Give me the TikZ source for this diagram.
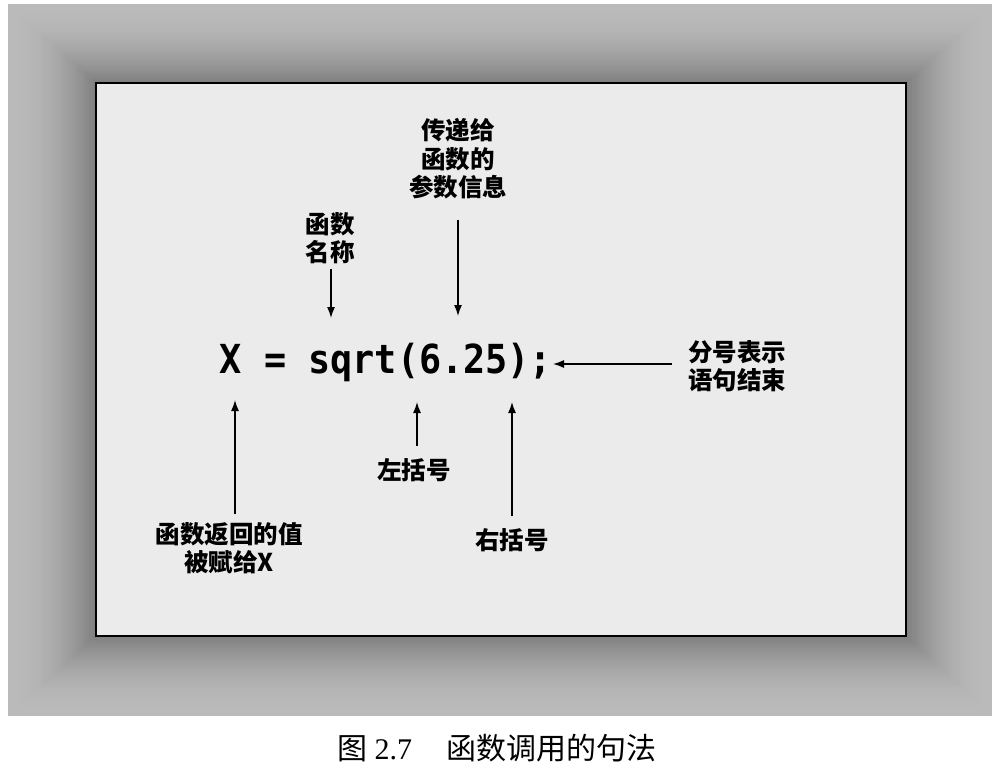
\documentclass[tikz,border=0pt]{standalone}
\usepackage{fontspec}
\setmainfont{Liberation Serif}
\newfontfamily\cjk{Noto Sans CJK SC}
\newfontfamily\codefont{DejaVu Sans Mono}
\usetikzlibrary{arrows.meta,calc}
\begin{document}
\begin{tikzpicture}[x=1pt,y=-1pt,
  lbl/.style={font=\cjk\bfseries\fontsize{24.5}{28.5}\selectfont, align=center, inner sep=0pt},
  arr/.style={line width=1.4pt, -{Latex[length=11pt,width=8pt]}}]
\useasboundingbox (0,0) rectangle (1003,778);
\fill[white] (0,0) rectangle (1003,778);
% graded grey surround
\foreach \i in {0,...,40}{
  \pgfmathsetmacro\f{1-\i/40}
  \pgfmathsetmacro\d{27+24*(\i/40)^2}
  \fill[black!\d] (96-88*\f, 83-79*\f) rectangle (906+86*\f, 636+80*\f);
}
% inner panel
\draw[line width=2.5pt, fill=black!8] (96,83) rectangle (906,636);

% code line
\node[font=\codefont\bfseries\fontsize{40}{40}\selectfont, xscale=0.92, anchor=base, inner sep=0pt] (code) at (386,373) {X = sqrt(6.25);};

% labels
\node[lbl] (fn) at (330,238) {函数\\名称};
\node[lbl] (param) at (458,159) {传递给\\函数的\\参数信息};
\node[lbl] (semi) at (737,366) {分号表示\\语句结束};
\node[lbl] (ret) at (229,548) {函数返回的值\\被赋给X};
\node[lbl] (lp) at (414,470) {左括号};
\node[lbl] (rp) at (512,540) {右括号};

% arrow tips
\coordinate (fnTip) at (331,318);
\coordinate (paramTip) at (458,316);
\coordinate (semiTip) at (553,364);
\coordinate (xTip) at (235,400);
\coordinate (lpTip) at (417,402);
\coordinate (rpTip) at (512,402);

\draw[arr] ($(fnTip |- fn.south)+(0,5)$) -- (fnTip);
\draw[arr] ($(paramTip |- param.south)+(0,20)$) -- (paramTip);
\draw[arr] ($(semi.west |- semiTip)+(-16,0)$) -- (semiTip);
\draw[arr] ($(xTip |- ret.north)+(0,-8)$) -- (xTip);
\draw[arr] ($(lpTip |- lp.north)+(0,-12)$) -- (lpTip);
\draw[arr] ($(rpTip |- rp.north)+(0,-12)$) -- (rpTip);

% caption
\node[font=\cjk\fontsize{30}{30}\selectfont, inner sep=0pt] (cap) at (497,748) {图 {\rmfamily 2.7}\hspace{34pt}函数调用的句法};
\end{tikzpicture}
\end{document}
